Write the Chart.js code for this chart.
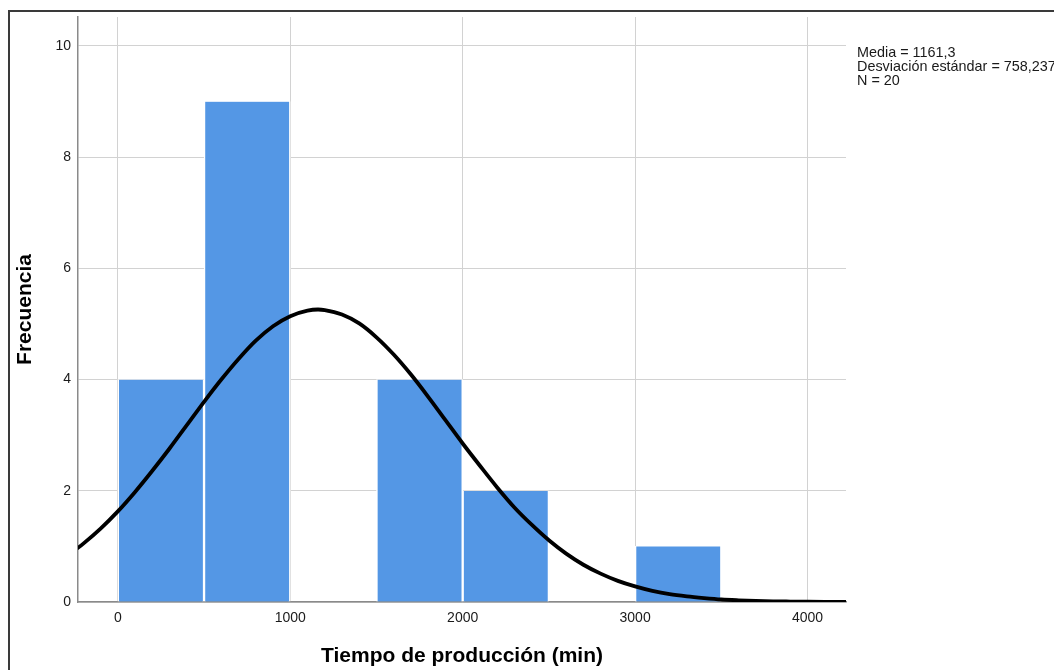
<!DOCTYPE html>
<html>
<head>
<meta charset="utf-8">
<script src="https://cdn.jsdelivr.net/npm/chart.js@4.4.1/dist/chart.umd.min.js"></script>
<style>
  html, body { margin: 0; padding: 0; background: #fff; overflow: hidden; }
  #wrap { position: relative; width: 1054px; height: 670px; overflow: hidden; }
  #c { position: absolute; left: 0; top: 0; }
  #frame { position: absolute; left: 8px; top: 10px; width: 1200px; height: 800px;
           border-left: 2px solid #3a3a3a; border-top: 2px solid #3a3a3a; pointer-events: none; }
  #stats { position: absolute; left: 857px; top: 45px; font-family: "Liberation Sans", Arial, sans-serif;
           font-size: 14.4px; line-height: 14px; color: #1a1a1a; white-space: nowrap; }
</style>
</head>
<body>
<div id="wrap">
  <canvas id="c" width="1054" height="670"></canvas>
  <div id="frame"></div>
  <div id="stats"></div>
</div>
<script>
// ---- data ----
const binCenters = [250, 750, 1250, 1750, 2250, 2750, 3250];
const frequencies = [4, 9, 0, 4, 2, 0, 1];
const curveX = [-250, -200, -100, 0, 100, 200, 300, 400, 500, 600, 700, 800, 900, 1000, 1100, 1161, 1200, 1300, 1400, 1500, 1600, 1700, 1800, 1900, 2000, 2100, 2200, 2300, 2400, 2500, 2600, 2700, 2800, 2900, 3000, 3100, 3200, 3300, 3400, 3500, 3600, 3700, 3800, 3900, 4000, 4100, 4200, 4250];
const curveY = [0.93, 1.05, 1.32, 1.63, 1.98, 2.36, 2.76, 3.18, 3.60, 4.00, 4.37, 4.70, 4.96, 5.14, 5.24, 5.26, 5.25, 5.17, 5.01, 4.76, 4.45, 4.09, 3.69, 3.27, 2.85, 2.45, 2.06, 1.70, 1.39, 1.11, 0.87, 0.67, 0.51, 0.38, 0.28, 0.20, 0.14, 0.10, 0.07, 0.045, 0.03, 0.019, 0.012, 0.008, 0.005, 0.003, 0.002, 0.001];
const xTicks = [0, 1000, 2000, 3000, 4000];
const yTicks = [0, 2, 4, 6, 8, 10];
const statsLines = ["Media = 1161,3", "Desviación estándar = 758,237", "N = 20"];
const xTitle = "Tiempo de producción (min)";
const yTitle = "Frecuencia";

document.getElementById('stats').innerHTML = statsLines.join('<br>');

Chart.defaults.font.family = '"Liberation Sans", Arial, sans-serif';
Chart.defaults.color = '#1a1a1a';

const barData = binCenters.map((x, i) => ({ x: x, y: frequencies[i] }));
const curveData = curveX.map((x, i) => ({ x: x, y: curveY[i] }));

new Chart(document.getElementById('c'), {
  type: 'bar',
  data: {
    datasets: [
      {
        type: 'line',
        data: curveData,
        borderColor: '#000',
        borderWidth: 3.8,
        pointRadius: 0,
        cubicInterpolationMode: 'monotone',
        fill: false,
        clip: 0,
        order: 0
      },
      {
        type: 'bar',
        data: barData,
        backgroundColor: '#5497e5',
        borderColor: '#ffffff',
        borderWidth: { top: 0.5, left: 1.5, right: 1.5, bottom: 0 },
        borderSkipped: 'bottom',
        barPercentage: 1,
        categoryPercentage: 1,
        order: 1
      }
    ]
  },
  options: {
    responsive: false,
    animation: false,
    events: [],
    layout: { padding: { left: 0, top: 17, right: 208, bottom: 0 } },
    plugins: { legend: { display: false }, tooltip: { enabled: false } },
    scales: {
      x: {
        type: 'linear',
        min: -231,
        max: 4223,
        offset: false,
        afterBuildTicks: (s) => { s.ticks = xTicks.map(v => ({ value: v })); },
        afterFit: (s) => { s.height = 68; },
        grid: { color: '#d2d2d2', lineWidth: 1, drawTicks: false, offset: false },
        border: { display: true, color: '#8a8a8a', width: 1.5 },
        ticks: { font: { size: 14 }, padding: 8, color: '#1a1a1a', maxRotation: 0,
                 callback: (v) => String(v) },
        title: { display: true, text: xTitle, font: { size: 21, weight: 'bold' }, color: '#000',
                 padding: { top: 0, bottom: 1 } }
      },
      y: {
        type: 'linear',
        min: 0,
        max: 10.52,
        afterBuildTicks: (s) => { s.ticks = yTicks.map(v => ({ value: v })); },
        afterFit: (s) => { s.width = 78; },
        grid: { color: '#d2d2d2', lineWidth: 1, drawTicks: false },
        border: { display: true, color: '#8a8a8a', width: 1.5 },
        ticks: { font: { size: 14 }, padding: 7, color: '#1a1a1a', callback: (v) => String(v) },
        title: { display: true, text: yTitle, font: { size: 21, weight: 'bold' }, color: '#000',
                 padding: { top: 13, bottom: 0 } }
      }
    }
  }
});
</script>
</body>
</html>
